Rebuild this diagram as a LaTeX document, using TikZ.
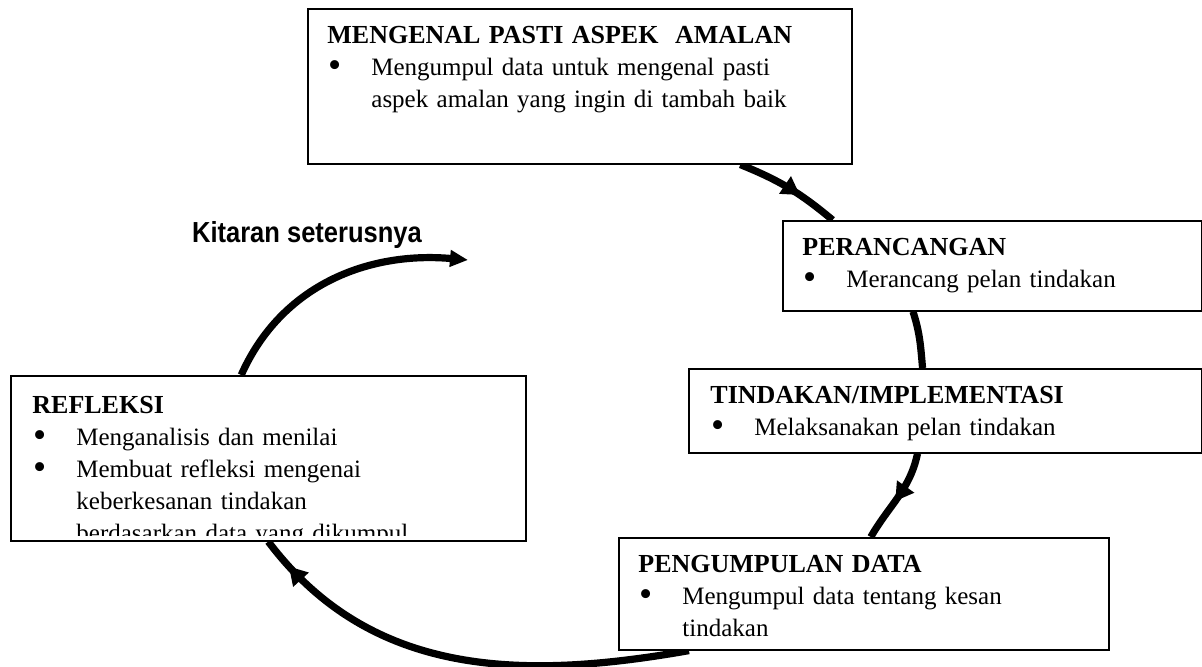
\documentclass[tikz,border=0pt]{standalone}
\usepackage{fontspec}
\setmainfont{Liberation Serif}
\newfontfamily\kitarfont{Liberation Sans}
\usetikzlibrary{positioning,arrows.meta,decorations.markings,backgrounds}

\newcommand{\tajuk}[1]{\noindent\rule{0pt}{12pt}{\fontsize{13}{16}\selectfont\bfseries #1}}
\newcommand{\butir}[1]{\par\noindent\hangindent=22pt\hangafter=1\hbox to 22pt{\hspace{0.4pt}\raisebox{-1.2pt}{\scalebox{1.5}{\textbullet}}\hfil}#1\par}

\begin{document}
\begin{tikzpicture}[
                            x=0.5pt, y=0.5pt,
                            kotak/.style={draw, line width=0.8pt, fill=white, anchor=north west, inner sep=0pt},
                            isi/.style={inner sep=0pt, font=\fontsize{12.5}{16}\selectfont},
                            garis/.style={line width=3.6pt},
                            panah/.style={decoration={markings, mark=at position #1 with {\arrow{Triangle[length=9pt,width=10pt]}}}, postaction={decorate}}
                        ]
                        \useasboundingbox (0,0) rectangle (1202,-667);

                        % Blocks
                        \node [kotak, minimum width=272pt, minimum height=77.5pt] (kenal) at (307,-8) {};
                        \node [kotak, minimum width=209.5pt, minimum height=45pt] (rancang) at (782,-220) {};
                        \node [kotak, minimum width=256.5pt, minimum height=42pt] (tindak) at (688,-368) {};
                        \node [kotak, minimum width=245pt, minimum height=56pt] (kumpul) at (618,-537) {};
                        \node [kotak, minimum width=257.5pt, minimum height=82.5pt] (refleksi) at (10,-375) {};

                        % Texts
                        \node [isi, text width=255pt, below right=5.5pt and 10pt of kenal.north west] (kenalisi)
                            {\raggedright\tajuk{MENGENAL PASTI ASPEK\ \ AMALAN}
                             \butir{Mengumpul data untuk mengenal pasti\newline aspek amalan yang ingin di tambah baik}};
                        \node [isi, text width=195pt, below right=5.5pt and 10pt of rancang.north west] (rancangisi)
                            {\raggedright\tajuk{PERANCANGAN}
                             \butir{Merancang pelan tindakan}};
                        \node [isi, text width=240pt, below right=5.5pt and 11pt of tindak.north west] (tindakisi)
                            {\raggedright\tajuk{TINDAKAN/IMPLEMENTASI}
                             \butir{Melaksanakan pelan tindakan}};
                        \node [isi, text width=230pt, below right=5.5pt and 10pt of kumpul.north west] (kumpulisi)
                            {\raggedright\tajuk{PENGUMPULAN DATA}
                             \butir{Mengumpul data tentang kesan\newline tindakan}};
                        \begin{scope}
                            \clip ([yshift=3pt]refleksi.south west) rectangle (refleksi.north east);
                            \node [isi, text width=240pt, below right=7pt and 11pt of refleksi.north west] (refleksiisi)
                                {\raggedright\tajuk{REFLEKSI}
                                 \butir{Menganalisis dan menilai}
                                 \butir{Membuat refleksi mengenai\newline keberkesanan tindakan\newline berdasarkan data yang dikumpul}};
                        \end{scope}

                        \coordinate (ujung) at (468,-260);
                        \node [anchor=base, font=\fontsize{14.5}{16}\selectfont\kitarfont\bfseries] (kitaran) at (307,-243)
                            {\scalebox{0.88}[1]{Kitaran seterusnya}};

                        % Connections
                        \begin{scope}[on background layer]
                        \draw [garis, panah=0.62] (kenal.-26) to[out=-22, in=140] (rancang.164);
                        \draw [garis] (rancang.-150) to[out=-72, in=95] (tindak.118);
                        \draw [garis, panah=0.55] (tindak.237) to[out=-102, in=60] (kumpul.83);
                        \draw [garis, panah=0.93] (kumpul.198) to[out=190, in=-53] (refleksi.south);
                        \draw [garis, -{Triangle[length=9pt,width=8pt]}] (refleksi.108) to[out=66, in=175] (ujung);
                        \end{scope}
                    \end{tikzpicture}
\end{document}
